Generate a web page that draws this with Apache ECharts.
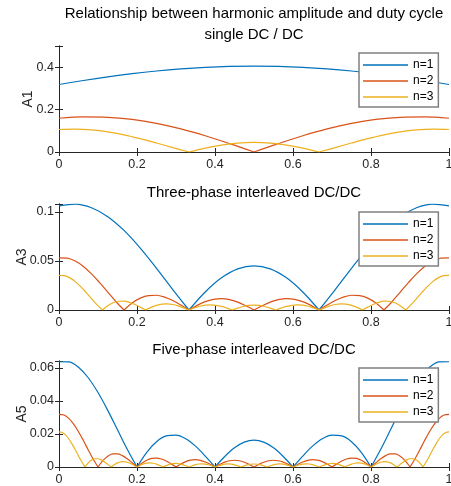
<!DOCTYPE html>
<html>
<head>
<meta charset="utf-8">
<script src="https://cdn.jsdelivr.net/npm/echarts@6/dist/echarts.min.js"></script>
<style>
html,body{margin:0;padding:0;background:#fff;}
#chart{width:451px;height:486px;}
</style>
</head>
<body>
<div id="chart"></div>
<script>
// ---------- data (sampled uniformly over duty cycle D in [0,1]) ----------
const seriesNames = ['n=1', 'n=2', 'n=3'];
const xTickLabels = ['0', '0.2', '0.4', '0.6', '0.8', '1'];
const panelTitles = ['single DC / DC', 'Three-phase interleaved DC/DC', 'Five-phase interleaved DC/DC'];
const mainTitle = 'Relationship between harmonic amplitude and duty cycle';
const yNames = ['A1', 'A3', 'A5'];

// single DC/DC
const A1_n1 = [0.31831,0.33735,0.35450,0.36950,0.38211,0.39212,0.39940,0.40381,0.40528,0.40381,0.39940,0.39212,0.38211,0.36950,0.35450,0.33735,0.31831];
const A1_n2 = [0.15915,0.16543,0.16376,0.15361,0.13509,0.10893,0.07642,0.03939,0,0.03939,0.07642,0.10893,0.13509,0.15361,0.16376,0.16543,0.15915];
const A1_n3 = [0.10610,0.10789,0.10421,0.09509,0.08106,0.06306,0.04246,0.02085,0,0.01838,0.03275,0.04189,0.04503,0.04189,0.03275,0.01838,0,0.02085,0.04246,0.06306,0.08106,0.09509,0.10421,0.10789,0.10610];

// three-phase interleaved
const A3_n1 = [0.10610,0.10789,0.10421,0.09509,0.08106,0.06306,0.04246,0.02085,0,0.01838,0.03275,0.04189,0.04503,0.04189,0.03275,0.01838,0,0.02085,0.04246,0.06306,0.08106,0.09509,0.10421,0.10789,0.10610];
const A3_n2 = [0.05305,0.05280,0.04984,0.04438,0.03684,0.02786,0.01820,0.00865,0,
  0.00707,0.01207,0.01472,0.01501,0.01317,0.00963,0.00501,0,
  0.00471,0.00849,0.01087,0.01158,0.01057,0.00802,0.00432,0,
  0.00432,0.00802,0.01057,0.01158,0.01087,0.00849,0.00471,0,
  0.00501,0.00963,0.01317,0.01501,0.01472,0.01207,0.00707,0,
  0.00865,0.01820,0.02786,0.03684,0.04438,0.04984,0.05280,0.05305];
const A3_n3 = [0.03537,0.03495,0.03275,0.02894,0.02384,0.01788,0.01158,0.00545,0,
  0.00438,0.00740,0.00893,0.00901,0.00781,0.00565,0.00290,0,
  0.00265,0.00472,0.00595,0.00624,0.00559,0.00417,0.00220,0,
  0.00211,0.00383,0.00493,0.00526,0.00480,0.00364,0.00195,0,
  0.00193,0.00355,0.00463,0.00500,0.00463,0.00355,0.00193,0,
  0.00195,0.00364,0.00480,0.00526,0.00493,0.00383,0.00211,0,
  0.00220,0.00417,0.00559,0.00624,0.00595,0.00472,0.00265,0,
  0.00290,0.00565,0.00781,0.00901,0.00893,0.00740,0.00438,0,
  0.00545,0.01158,0.01788,0.02384,0.02894,0.03275,0.03495,0.03537];

// five-phase interleaved
const A5_n1 = [0.06366,0.06363,0.06033,0.05397,0.04503,0.03423,0.02248,0.01074,0,
  0.00889,0.01528,0.01878,0.01930,0.01707,0.01260,0.00662,0,
  0.00635,0.01158,0.01502,0.01621,0.01502,0.01158,0.00635,0,
  0.00662,0.01260,0.01707,0.01930,0.01878,0.01528,0.00889,0,
  0.01074,0.02248,0.03423,0.04503,0.05397,0.06033,0.06363,0.06366];
const A5_n2 = [0.03183,0.03141,0.02939,0.02594,0.02133,0.01598,0.01033,0.00486,0,
  0.00388,0.00655,0.00789,0.00795,0.00688,0.00496,0.00255,0,
  0.00232,0.00411,0.00517,0.00540,0.00484,0.00359,0.00189,0,
  0.00180,0.00327,0.00419,0.00445,0.00405,0.00306,0.00163,0,
  0.00160,0.00293,0.00380,0.00409,0.00377,0.00287,0.00155,0,
  0.00155,0.00287,0.00377,0.00409,0.00380,0.00293,0.00160,0,
  0.00163,0.00306,0.00405,0.00445,0.00419,0.00327,0.00180,0,
  0.00189,0.00359,0.00484,0.00540,0.00517,0.00411,0.00232,0,
  0.00255,0.00496,0.00688,0.00795,0.00789,0.00655,0.00388,0,
  0.00486,0.01033,0.01598,0.02133,0.02594,0.02939,0.03141,0.03183];
const A5_n3 = [0.02122,0.02085,0.01943,0.01707,0.01398,0.01042,0.00670,0.00314,0,
  0.00248,0.00417,0.00500,0.00500,0.00431,0.00309,0.00158,0,
  0.00142,0.00250,0.00312,0.00324,0.00288,0.00213,0.00111,0,
  0.00104,0.00188,0.00239,0.00252,0.00227,0.00170,0.00090,0,
  0.00086,0.00157,0.00201,0.00214,0.00195,0.00147,0.00079,0,
  0.00077,0.00140,0.00181,0.00194,0.00178,0.00135,0.00072,0,
  0.00071,0.00131,0.00170,0.00183,0.00169,0.00129,0.00069,0,
  0.00069,0.00128,0.00166,0.00180,0.00166,0.00128,0.00069,0,
  0.00069,0.00129,0.00169,0.00183,0.00170,0.00131,0.00071,0,
  0.00072,0.00135,0.00178,0.00194,0.00181,0.00140,0.00077,0,
  0.00079,0.00147,0.00195,0.00214,0.00201,0.00157,0.00086,0,
  0.00090,0.00170,0.00227,0.00252,0.00239,0.00188,0.00104,0,
  0.00111,0.00213,0.00288,0.00324,0.00312,0.00250,0.00142,0,
  0.00158,0.00309,0.00431,0.00500,0.00500,0.00417,0.00248,0,
  0.00314,0.00670,0.01042,0.01398,0.01707,0.01943,0.02085,0.02122];

const panels = [[A1_n1, A1_n2, A1_n3], [A3_n1, A3_n2, A3_n3], [A5_n1, A5_n2, A5_n3]];
const yMax = [0.5, 0.108, 0.0641];
const yInterval = [0.2, 0.05, 0.02];

// ---------- style ----------
const colors = ['#0072BD', '#D95319', '#EDB120'];
const FONT = '"Liberation Sans", Arial, Helvetica, sans-serif';
const AX = '#262626';
const gridTops = [46, 204, 361];
const gridH = 106;
const gridLeft = 59, gridW = 390;
const legendTops = [53, 212, 368];
const nameGaps = [24, 30, 30];

// build [x,y] pairs; break the line at interior zeros so each lobe is its own smooth piece
function toPairs(vals) {
  const n = vals.length - 1, out = [];
  vals.forEach((v, i) => {
    const x = i / n;
    out.push([x, v]);
    if (v === 0 && i > 0 && i < n) { out.push([x, '-']); out.push([x, 0]); }
  });
  return out;
}

const grid = [], xAxis = [], yAxis = [], series = [], legend = [];
const titleCenter = gridLeft + gridW / 2;
const title = [{
  text: mainTitle, left: titleCenter, top: 6.5, textAlign: 'center', padding: 0,
  textStyle: { fontFamily: FONT, fontSize: 15, fontWeight: 'normal', color: '#000' }
}];

panels.forEach((p, g) => {
  grid.push({ left: gridLeft, top: gridTops[g], width: gridW, height: gridH,
              containLabel: false, outerBoundsMode: 'none' });
  title.push({
    text: panelTitles[g], left: titleCenter, top: gridTops[g] - 18.5, textAlign: 'center', padding: 0,
    textStyle: { fontFamily: FONT, fontSize: 15, fontWeight: 'normal', color: '#000' }
  });
  const iv = yInterval[g];
  const common = { axisLine: { show: true, lineStyle: { color: AX, width: 1 } },
                   axisTick: { show: true, inside: true, length: 4, lineStyle: { color: AX } },
                   splitLine: { show: false } };
  xAxis.push(Object.assign({
    type: 'value', gridIndex: g, min: 0, max: 1, interval: 0.2, position: 'bottom',
    axisLabel: { show: true, margin: 6, color: AX, fontFamily: FONT, fontSize: 12.5,
      formatter: v => { const i = Math.round(v / 0.2); return Math.abs(v - i * 0.2) < 1e-6 ? xTickLabels[i] : ''; } }
  }, common));
  xAxis.push(Object.assign({
    type: 'value', gridIndex: g, min: 0, max: 1, interval: 0.2, position: 'top',
    axisLabel: { show: false }
  }, common));
  yAxis.push(Object.assign({
    type: 'value', gridIndex: g, min: 0, max: yMax[g], interval: iv, position: 'left',
    name: yNames[g], nameLocation: 'middle', nameGap: nameGaps[g], nameMoveOverlap: false,
    nameTextStyle: { fontFamily: FONT, fontSize: 14, color: AX },
    axisLabel: { show: true, margin: 5, color: AX, fontFamily: FONT, fontSize: 12.5,
      formatter: v => { const r = v / iv; return Math.abs(r - Math.round(r)) < 1e-6 ? String(+v.toFixed(3)) : ''; } }
  }, common));
  yAxis.push(Object.assign({
    type: 'value', gridIndex: g, min: 0, max: yMax[g], interval: iv, position: 'right',
    axisLabel: { show: false }
  }, common));
  p.forEach((vals, s) => {
    series.push({
      type: 'line', name: seriesNames[s], xAxisIndex: 2 * g, yAxisIndex: 2 * g,
      data: toPairs(vals), showSymbol: false, symbol: 'none', smooth: 0.35,
      connectNulls: false, clip: true,
      lineStyle: { color: colors[s], width: 1.2 }, itemStyle: { color: colors[s] }
    });
  });
  legend.push({
    data: seriesNames, orient: 'vertical', left: 359, top: legendTops[g],
    padding: [5, 5, 3, 4], itemGap: 2, itemWidth: 45, itemHeight: 1.5, icon: 'rect',
    backgroundColor: '#fff', borderColor: '#808080', borderWidth: 1.5,
    selectedMode: false,
    textStyle: { fontFamily: FONT, fontSize: 12, lineHeight: 14, color: '#000' }
  });
});

const chart = echarts.init(document.getElementById('chart'), null, { renderer: 'canvas' });
chart.setOption({
  animation: false, backgroundColor: '#fff', color: colors,
  title, grid, xAxis, yAxis, series, legend
});
</script>
</body>
</html>
